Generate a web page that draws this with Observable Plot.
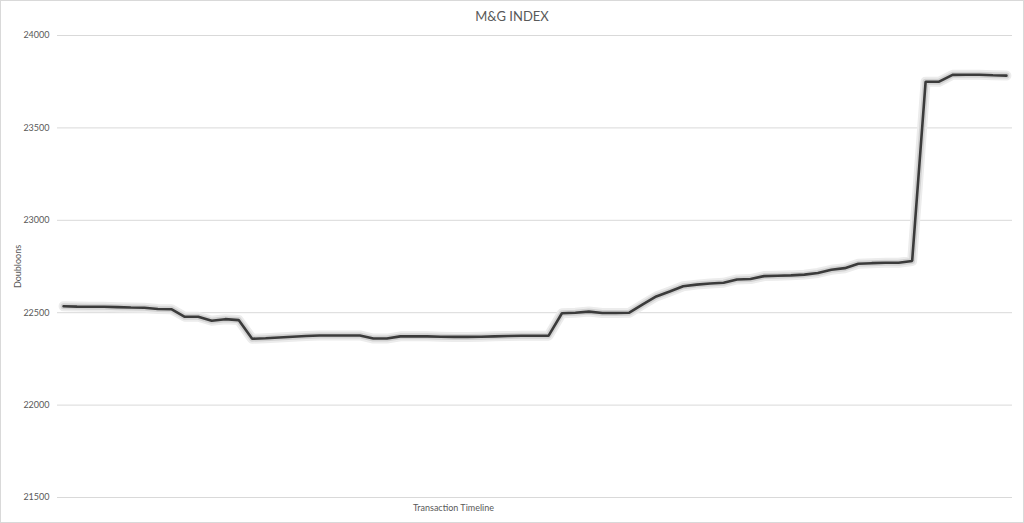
<!DOCTYPE html>
<html>
<head>
<meta charset="utf-8">
<script src="https://cdn.jsdelivr.net/npm/d3@7"></script>
<script src="https://cdn.jsdelivr.net/npm/@observablehq/plot@0.6"></script>
<style>
  html, body { margin: 0; padding: 0; background: #fff; }
  #wrap { position: relative; width: 1024px; height: 523px; background: #fff; font-family: Lato, "Open Sans", sans-serif; }
  #frame { position: absolute; left: 0; top: 0; width: 1024px; height: 523px; box-sizing: border-box; border: 1px solid #d9d9d9; pointer-events: none; }
  #title { height: 26px; line-height: 32px; text-align: center; font-size: 13px; color: #595959; }
</style>
</head>
<body>
<div id="wrap">
  <div id="title">M&amp;G INDEX</div>
  <div id="chart"></div>
  <div id="frame"></div>
</div>
<script>
// Transaction index (0..70) and M&G index value in doubloons
const transactions = d3.range(71);
const doubloons = [
  22535, 22533, 22532, 22532, 22530, 22528, 22527, 22520, 22519, 22478,
  22478, 22456, 22465, 22460, 22359, 22362, 22366, 22370, 22374, 22377,
  22377, 22377, 22377, 22360, 22360, 22372, 22372, 22372, 22370, 22369,
  22369, 22370, 22372, 22374, 22375, 22375, 22375, 22497, 22500, 22506,
  22498, 22498, 22500, 22545, 22588, 22615, 22643, 22652, 22658, 22662,
  22680, 22682, 22698, 22700, 22702, 22706, 22715, 22732, 22741, 22765,
  22768, 22770, 22770, 22780, 23750, 23750, 23787, 23788, 23788, 23785,
  23783
];
const yTicks = [21500, 22000, 22500, 23000, 23500, 24000];
const yLabel = "Doubloons";
const xLabel = "Transaction Timeline";

const data = transactions.map((t, i) => ({t, v: doubloons[i]}));

const chart = Plot.plot({
  width: 1024,
  height: 497,
  marginLeft: 57,
  marginRight: 12,
  marginTop: 9,
  marginBottom: 26,
  style: {fontFamily: "Lato, 'Open Sans', sans-serif", fontSize: "9px", color: "#595959", background: "#fff", overflow: "visible"},
  x: {domain: [-0.45, 70.45], axis: null},
  y: {domain: [21500, 24000], ticks: yTicks, tickSize: 0, tickPadding: 8, label: null},
  marks: [
    Plot.gridY(yTicks, {stroke: "#d9d9d9", strokeOpacity: 1, strokeWidth: 1}),
    Plot.axisY(yTicks, {tickSize: 0, tickPadding: 8, tickFormat: d => String(d), fill: "#595959", fontSize: 9, label: null}),
    Plot.text([yLabel], {frameAnchor: "left", dx: -39, rotate: -90, textAnchor: "middle", fill: "#595959", fontSize: 9}),
    Plot.text([xLabel], {frameAnchor: "bottom-left", dx: 396, dy: 13, textAnchor: "middle", fill: "#595959", fontSize: 9}),
    Plot.line(data, {x: "t", y: "v", stroke: "#ececec", strokeWidth: 10, strokeLinejoin: "round", strokeLinecap: "round"}),
    Plot.line(data, {x: "t", y: "v", stroke: "#d2d2d2", strokeWidth: 6, strokeLinejoin: "round", strokeLinecap: "round"}),
    Plot.line(data, {x: "t", y: "v", stroke: "#3b3b3b", strokeWidth: 2.6, strokeLinejoin: "miter"})
  ]
});
document.getElementById("chart").appendChild(chart);
</script>
</body>
</html>
